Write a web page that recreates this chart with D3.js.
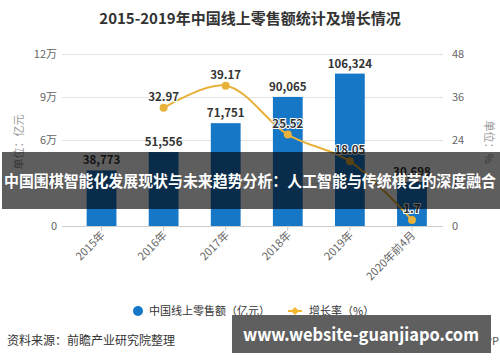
<!DOCTYPE html>
<html><head><meta charset="utf-8">
<script src="https://cdn.jsdelivr.net/npm/d3@7"></script>
<style>body{margin:0;background:#fff;}svg{display:block;font-family:"Noto Sans CJK SC","Noto Sans",sans-serif;}</style>
</head><body>
<svg id="c" width="500" height="362"></svg>
<script>
const categories = ["2015年","2016年","2017年","2018年","2019年","2020年前4月"];
const sales = [38773, 51556, 71751, 90065, 106324, 30698];
const growth = [null, 32.97, 39.17, 25.52, 18.05, 1.7];
const leftTicks = [0, 30000, 60000, 90000, 120000];
const leftTickLabels = ["0","3万","6万","9万","12万"];
const rightTicks = [0, 12, 24, 36, 48];

const svg = d3.select("#c");
const x = d3.scaleBand().domain(categories).range([70.5, 443]).paddingInner(0.52).paddingOuter(0.26);
const yL = d3.scaleLinear().domain([0,120000]).range([226,54]);
const yR = d3.scaleLinear().domain([0,48]).range([226,54]);
const fmt = d3.format(",");

svg.append("text").attr("x",250).attr("y",24).attr("text-anchor","middle")
  .attr("font-size",15).attr("font-weight","bold").attr("fill","#333")
  .text("2015-2019年中国线上零售额统计及增长情况");

// grid
svg.append("g").selectAll("line").data(leftTicks.slice(1)).join("line")
  .attr("x1",62).attr("x2",443).attr("y1",d=>yL(d)+0.5).attr("y2",d=>yL(d)+0.5)
  .attr("stroke","#e3e3e3");

// axis labels
svg.append("g").selectAll("text").data(leftTicks).join("text")
  .attr("x",57).attr("y",d=>yL(d)+4).attr("text-anchor","end")
  .attr("font-size",11).attr("fill","#666").text((d,i)=>leftTickLabels[i]);
svg.append("g").selectAll("text").data(rightTicks).join("text")
  .attr("x",452).attr("y",d=>yR(d)+4).attr("text-anchor","start")
  .attr("font-size",11).attr("fill","#666").text(d=>d);

svg.append("text").attr("transform","translate(23,142) rotate(-90)").attr("text-anchor","middle")
  .attr("font-size",11).attr("fill","#999").text("单位：亿元");
svg.append("text").attr("transform","translate(485,142) rotate(90)").attr("text-anchor","middle")
  .attr("font-size",11).attr("fill","#999").text("单位：%");

// bars
svg.append("g").selectAll("rect").data(sales).join("rect")
  .attr("x",(d,i)=>x(categories[i])).attr("width",x.bandwidth())
  .attr("y",d=>yL(d)).attr("height",d=>226-yL(d)).attr("fill","#1677c6");

// x axis
svg.append("line").attr("x1",62).attr("x2",443).attr("y1",226.5).attr("y2",226.5).attr("stroke","#ccc");
svg.append("g").selectAll("line").data(categories).join("line")
  .attr("x1",d=>x(d)+x.bandwidth()/2).attr("x2",d=>x(d)+x.bandwidth()/2)
  .attr("y1",226).attr("y2",231).attr("stroke","#ccc");
svg.append("g").selectAll("text").data(categories).join("text")
  .attr("transform",d=>`translate(${x(d)+x.bandwidth()/2+4},${236}) rotate(-45)`)
  .attr("text-anchor","end").attr("font-size",11).attr("fill","#666").text(d=>d);

// bar labels
svg.append("g").selectAll("text").data(sales).join("text")
  .attr("x",(d,i)=>x(categories[i])+x.bandwidth()/2).attr("y",d=>yL(d)-6)
  .attr("text-anchor","middle").attr("font-size",11.5).attr("font-weight","bold")
  .attr("fill","#333").text(d=>fmt(d));

// line
const pts = growth.map((g,i)=>({g,c:categories[i]})).filter(d=>d.g!==null);
const line = d3.line().x(d=>x(d.c)+x.bandwidth()/2).y(d=>yR(d.g)).curve(d3.curveCatmullRom.alpha(0.5));
svg.append("path").datum(pts).attr("d",line).attr("fill","none").attr("stroke","#e8b23a").attr("stroke-width",2);
svg.append("g").selectAll("circle").data(pts).join("circle")
  .attr("cx",d=>x(d.c)+x.bandwidth()/2).attr("cy",d=>yR(d.g)).attr("r",4).attr("fill","#e8b23a");
svg.append("g").selectAll("text").data(pts).join("text")
  .attr("x",d=>x(d.c)+x.bandwidth()/2).attr("y",d=>yR(d.g)-7)
  .attr("text-anchor","middle").attr("font-size",11.5).attr("font-weight","bold")
  .attr("fill","#333").attr("stroke","#fff").attr("stroke-width",2).attr("paint-order","stroke")
  .text(d=>d.g);

// legend
const lg = svg.append("g");
lg.append("circle").attr("cx",138).attr("cy",311).attr("r",5).attr("fill","#1677c6");
lg.append("text").attr("x",149).attr("y",315).attr("font-size",11).attr("fill","#333").text("中国线上零售额（亿元）");
lg.append("line").attr("x1",288).attr("x2",302).attr("y1",311).attr("y2",311).attr("stroke","#f5b82e").attr("stroke-width",2);
lg.append("path").attr("d","M295,307L299,311L295,315L291,311Z").attr("fill","#f5b82e");
lg.append("text").attr("x",309).attr("y",315).attr("font-size",11).attr("fill","#333").text("增长率（%）");

// source
svg.append("text").attr("x",7).attr("y",345).attr("font-size",12).attr("fill","#333").text("资料来源：前瞻产业研究院整理");
svg.append("text").attr("x",499).attr("y",345).attr("text-anchor","end").attr("font-size",11).attr("fill","#555").text("@前瞻经济学人APP");

// overlay banners
svg.append("rect").attr("x",2).attr("y",152).attr("width",498).attr("height",57).attr("fill","#000").attr("fill-opacity",0.63);
svg.append("text").attr("x",4).attr("y",187).attr("font-size",15.5).attr("font-weight","bold").attr("fill","#fff")
  .attr("textLength",492).attr("lengthAdjust","spacingAndGlyphs")
  .text("中国围棋智能化发展现状与未来趋势分析：人工智能与传统棋艺的深度融合");
svg.append("rect").attr("x",232).attr("y",315).attr("width",259).attr("height",38).attr("fill","#5f5f5f");
svg.append("text").attr("x",243).attr("y",341).attr("font-size",18).attr("font-weight","bold").attr("fill","#fff")
  .attr("textLength",236).attr("lengthAdjust","spacingAndGlyphs").text("www.website-guanjiapo.com");
</script>
</body></html>
